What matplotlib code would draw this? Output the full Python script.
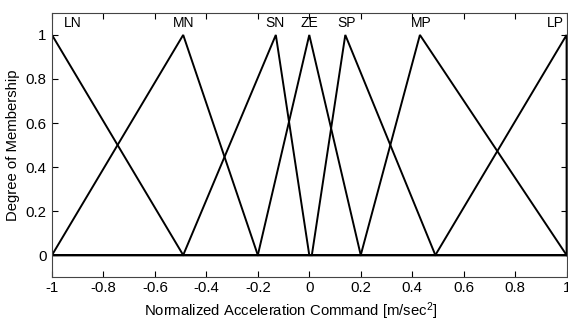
import matplotlib
matplotlib.use("Agg")
import matplotlib.pyplot as plt
import numpy as np

plt.rcParams['font.family'] = ['Liberation Sans', 'DejaVu Sans']
plt.rcParams['mathtext.fontset'] = 'custom'
plt.rcParams['mathtext.rm'] = 'Liberation Sans'
plt.rcParams['mathtext.it'] = 'Liberation Sans'

# Triangular membership functions: (left foot, peak, right foot)
set_names = ["LN", "MN", "SN", "ZE", "SP", "MP", "LP"]
left_feet = [-1.0, -1.0, -0.49, -0.2, 0.01, 0.2, 0.49]
peaks = [-1.0, -0.49, -0.13, 0.0, 0.14, 0.43, 1.0]
right_feet = [-0.49, -0.2, 0.0, 0.2, 0.49, 1.0, 1.0]

# label positions (x) above each peak
label_x = [-0.92, -0.49, -0.135, 0.0, 0.145, 0.435, 0.955]
label_y = 1.055

x_ticks = np.round(np.arange(-1, 1.01, 0.2), 1)
y_ticks = np.round(np.arange(0, 1.01, 0.2), 1)


def fmt(v):
    s = ("%g" % v)
    return "0" if s in ("-0", "0") else s


fig = plt.figure(figsize=(5.68, 3.23), dpi=100)
ax = fig.add_axes([0.0915, 0.142, 0.906, 0.818])

for a, b, c in zip(left_feet, peaks, right_feet):
    xs = [-1.0, a, b, c, 1.0]
    ys = [0, 0, 1, 0, 0]
    ax.plot(xs, ys, color='black', lw=1.4, solid_joinstyle='miter')

for name, lx in zip(set_names, label_x):
    ax.text(lx, label_y, name, ha='center', va='center', fontsize=10)

ax.set_xlim(-1, 1)
ax.set_ylim(-0.1, 1.1)
ax.set_xticks(x_ticks)
ax.set_xticklabels([fmt(v) for v in x_ticks])
ax.set_yticks(y_ticks)
ax.set_yticklabels([fmt(v) for v in y_ticks])
ax.tick_params(direction='in', length=4, width=0.8, top=True, right=True,
               labelsize=10.8)
ax.tick_params(axis='x', pad=3)
ax.tick_params(axis='y', pad=4)
for sp in ax.spines.values():
    sp.set_linewidth(0.8)
    sp.set_color('#444444')

ax.set_xlabel(r'Normalized Acceleration Command [m/sec$^{2}$]', fontsize=10.7)
ax.xaxis.set_label_coords(0.464, -0.088)
ax.set_ylabel('Degree of Membership', fontsize=10.7, labelpad=4)

fig.savefig("out.png", dpi=100, facecolor='white')
